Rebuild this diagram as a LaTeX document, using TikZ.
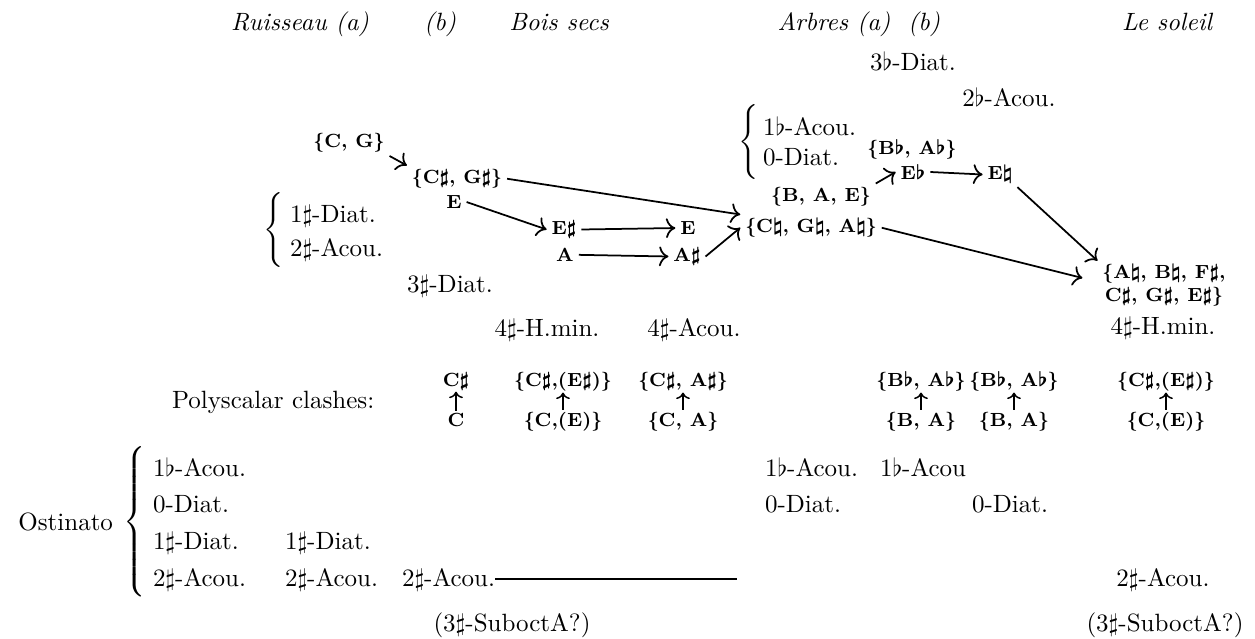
\documentclass[tikz,border=0pt]{standalone}
\usetikzlibrary{arrows.meta}
\newcommand{\Shp}{$\sharp$}
\newcommand{\Flt}{$\flat$}
\newcommand{\Ntl}{$\natural$}
\newcommand{\Brc}[1]{$\nulldelimiterspace=0pt\left\{\vcenter{\hrule height #1 width 0pt}\right.$}
\begin{document}
\begin{tikzpicture}[x=0.4pt,y=-0.4pt,
  every node/.style={inner sep=0pt, outer sep=0pt},
  txt/.style={font=\fontsize{10}{12}\selectfont, anchor=base west, yshift=-3.4pt},
  txte/.style={font=\fontsize{10}{12}\selectfont, anchor=base east, yshift=-3.4pt},
  txtc/.style={font=\fontsize{10}{12}\selectfont, anchor=base, yshift=-3.4pt},
  hdr/.style={font=\fontsize{10}{12}\selectfont\itshape, anchor=base, yshift=-3.4pt},
  bld/.style={font=\fontsize{7.6}{9.2}\selectfont\bfseries\boldmath, anchor=base, yshift=-2.6pt, inner xsep=2pt, inner ysep=1.5pt},
  pc/.style={bld, inner ysep=0pt},
  brc/.style={anchor=center},
  arr/.style={-{To[scale=1.2]}, line width=0.7pt}
]
\useasboundingbox (0,0) rectangle (1255,639);

% headers
\node[hdr] (h1) at (300,22) {Ruisseau (a)};
\node[hdr] (h2) at (440,22) {(b)};
\node[hdr] (h3) at (559,22) {Bois secs};
\node[hdr] (h4) at (834,22) {Arbres (a)};
\node[hdr] (h5) at (924,22) {(b)};
\node[hdr] (h6) at (1167,22) {Le soleil};

% upper right labels
\node[txtc] (t3b) at (913,62) {3\Flt-Diat.};
\node[txtc] (t2b) at (1009,98) {2\Flt-Acou.};
\node[brc] (br2) at (749,142) {\Brc{30pt}};
\node[txt] (t1ba) at (763,127) {1\Flt-Acou.};
\node[txt] (t0a) at (763,157) {0-Diat.};

% left labels
\node[brc] (br1) at (274,230) {\Brc{28pt}};
\node[txt] (l1) at (290,214) {1\Shp-Diat.};
\node[txt] (l2) at (290,248) {2\Shp-Acou.};
\node[txtc] (t3s) at (450,284) {3\Shp-Diat.};
\node[txtc] (hm1) at (547,328) {4\Shp-H.min.};
\node[txtc] (ac4) at (694,328) {4\Shp-Acou.};
\node[txtc] (hm2) at (1163,326) {4\Shp-H.min.};

% pitch nodes
\node[bld] (cg) at (349,141) {\{C, G\}};
\node[bld] (csgs) at (457,177) {\{C\Shp, G\Shp\}};
\node[bld] (e1) at (454,202) {E};
\node[bld] (es) at (564,228) {E\Shp};
\node[bld] (e2) at (688,228) {E};
\node[bld] (a1) at (565,255) {A};
\node[bld] (as) at (687,255) {A\Shp};
\node[bld] (cn) at (811,226) {\{C\Ntl, G\Ntl, A\Ntl\}};
\node[bld] (bae) at (821,195) {\{B, A, E\}};
\node[bld] (bfaf) at (912,148) {\{B\Flt, A\Flt\}};
\node[bld] (eb) at (913,173) {E\Flt};
\node[bld] (en) at (1000,173) {E\Ntl};
\node[bld, align=center, anchor=center, yshift=0pt] (big) at (1164,279) {\{A\Ntl, B\Ntl, F\Shp,\\ C\Shp, G\Shp, E\Shp\}};

% connectors
\draw[arr] (cg.south east) -- (csgs.north west);
\draw[arr] (csgs.east) -- (cn.north west);
\draw[arr] (e1.east) -- (es.west);
\draw[arr] (es.east) -- (e2.west);
\draw[arr] (a1.east) -- (as.west);
\draw[arr] (as.east) -- (cn.west);
\draw[arr] (bae.north east) -- (eb.west);
\draw[arr] (eb.east) -- (en.west);
\draw[arr] (en.south east) -- (big.north west);
\draw[arr] (cn.east) -- ([xshift=-6pt,yshift=3pt]big.west);

% polyscalar clashes
\node[txt] (poly) at (172,400) {Polyscalar clashes:};
\node[pc] (p1t) at (456,380) {C\Shp};
\node[pc] (p1b) at (456,420) {C};
\node[pc] (p2t) at (563,380) {\{C\Shp,(E\Shp)\}};
\node[pc] (p2b) at (563,420) {\{C,(E)\}};
\node[pc] (p3t) at (683,380) {\{C\Shp, A\Shp\}};
\node[pc] (p3b) at (683,420) {\{C, A\}};
\node[pc] (p4t) at (921,380) {\{B\Flt, A\Flt\}};
\node[pc] (p4b) at (921,420) {\{B, A\}};
\node[pc] (p5t) at (1014,380) {\{B\Flt, A\Flt\}};
\node[pc] (p5b) at (1014,420) {\{B, A\}};
\node[pc] (p6t) at (1166,380) {\{C\Shp,(E\Shp)\}};
\node[pc] (p6b) at (1166,420) {\{C,(E)\}};
\foreach \k in {1,...,6} {\draw[-{To[scale=0.9]}, line width=0.6pt, shorten <=1pt, shorten >=0.5pt] (p\k b.north) -- (p\k t.south);}

% ostinato
\node[txte] (ost) at (113,522) {Ostinato};
\node[brc] (br3) at (135,522) {\Brc{64pt}};
\node[txt] (o11) at (153,468) {1\Flt-Acou.};
\node[txt] (o12) at (153,504) {0-Diat.};
\node[txt] (o13) at (153,541) {1\Shp-Diat.};
\node[txt] (o14) at (153,578) {2\Shp-Acou.};
\node[txt] (o23) at (285,541) {1\Shp-Diat.};
\node[txt] (o24) at (285,578) {2\Shp-Acou.};
\node[txt] (o34) at (402,578) {2\Shp-Acou.};
\coordinate (lend) at (737,578);
\path ([yshift=3pt]o34.base east) coordinate (ls);
\draw[line width=0.7pt] (ls) -- (ls -| lend);
\node[txt] (r11) at (765,468) {1\Flt-Acou.};
\node[txt] (r12) at (880,468) {1\Flt-Acou};
\node[txt] (r01) at (765,504) {0-Diat.};
\node[txt] (r02) at (972,504) {0-Diat.};
\node[txtc] (r2s) at (1163,578) {2\Shp-Acou.};
\node[txtc] (sa1) at (512,623) {(3\Shp-SuboctA?)};
\node[txtc] (sa2) at (1165,623) {(3\Shp-SuboctA?)};
\end{tikzpicture}
\end{document}
